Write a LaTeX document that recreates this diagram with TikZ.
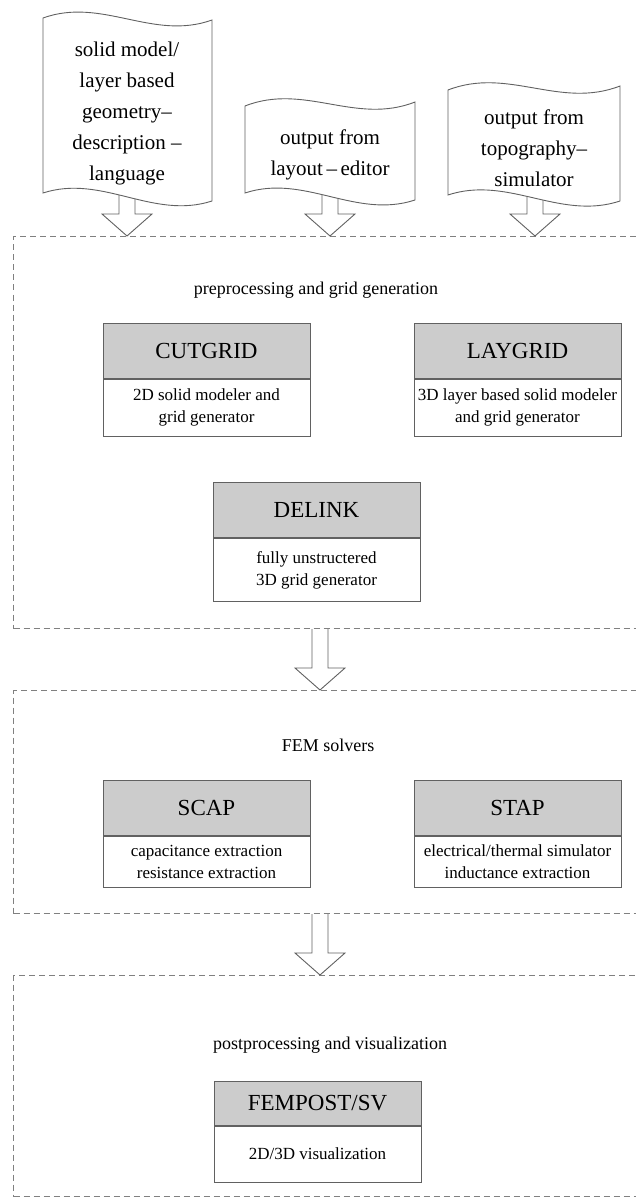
\documentclass[tikz,border=0pt]{standalone}
\usepackage{fontspec}
\setmainfont{Liberation Serif}
\usetikzlibrary{calc}
\definecolor{hdr}{gray}{0.8}
\definecolor{edgec}{gray}{0.38}
\definecolor{dashc}{gray}{0.5}
\newcommand\harrow[2]{%
  \draw[hollow] ($(#1)+(-8,0)$) -- ($(#2)+(-8,-22)$) -- ($(#2)+(-25,-22)$) -- (#2)
    -- ($(#2)+(25,-22)$) -- ($(#2)+(8,-22)$) -- ($(#1)+(8,0)$);}
\newcommand\docpath[6]{%
  \path[docline] (#1,#3) .. controls ($(#1,#3)!0.35!(#2,#4)+(0,-22)$) and ($(#1,#3)!0.65!(#2,#4)+(0,22)$) .. (#2,#4)
    -- (#2,#6) .. controls ($(#1,#5)!0.65!(#2,#6)+(0,22)$) and ($(#1,#5)!0.35!(#2,#6)+(0,-22)$) .. (#1,#5) -- cycle;}
\begin{document}
\begin{tikzpicture}[x=1pt,y=-1pt,
  doctext/.style={align=center,font=\fontsize{21}{31}\selectfont,inner sep=0pt},
  docline/.style={draw=edgec,line width=0.9pt,fill=white},
  hollow/.style={draw=edgec,line width=0.9pt,fill=white},
  group/.style={draw=dashc,dash pattern=on 6pt off 4pt,line width=1pt,anchor=north west,minimum width=660pt,inner sep=0pt},
  grouplabel/.style={font=\fontsize{18}{22}\selectfont,inner sep=0pt},
  head/.style={draw=edgec,fill=hdr,line width=1pt,minimum width=207pt,minimum height=55pt,inner sep=0pt,font=\fontsize{23}{27}\selectfont},
  body/.style={draw=edgec,fill=white,line width=1pt,minimum width=207pt,minimum height=57pt,inner sep=0pt,align=center,anchor=north,font=\fontsize{17}{22}\selectfont},
]
\useasboundingbox (0,0) rectangle (636,1201);
\clip (0,0) rectangle (636,1201);

% group frames
\node[group,minimum height=392pt] (g1) at (13,236) {};
\node[group,minimum height=223pt] (g2) at (13,690) {};
\node[group,minimum height=221pt] (g3) at (13,975) {};
\coordinate (cx) at (320,0);

\node[grouplabel] (l1) at (316,290) {preprocessing and grid generation};
\node[grouplabel] (l2) at (328,745) {FEM solvers};
\node[grouplabel] (l3) at (330,1045) {postprocessing and visualization};

% input arrows
\coordinate (a1) at (127,185);
\coordinate (a2) at (330,185);
\coordinate (a3) at (535,185);
\harrow{a1}{a1 |- g1.north}
\harrow{a2}{a2 |- g1.north}
\harrow{a3}{a3 |- g1.north}

% documents
\docpath{43}{212}{18}{20}{193}{201}
\docpath{245}{415}{106}{102}{193}{200}
\docpath{448}{620}{90}{86}{195}{201}
\node[doctext] (d1) at (127,113) {solid model/\\layer based\\geometry--\\description --\\language};
\node[doctext] (d2) at (330,155) {output from\\layout\,--\,editor};
\node[doctext] (d3) at (534,148) {output from\\topography--\\simulator};

% tools
\node[head] (cut) at (206.5,350.5) {CUTGRID};
\node[body] (cutb) at (cut.south) {2D solid modeler and\\grid generator};
\node[head] (lay) at (517.5,350.5) {LAYGRID};
\node[body] (layb) at (lay.south) {3D layer based solid modeler\\and grid generator};
\node[head] (del) at (316.5,510) {DELINK};
\node[body,minimum height=63pt] (delb) at (del.south) {fully unstructered\\3D grid generator};

\node[head] (scap) at (206.5,807.5) {SCAP};
\node[body,minimum height=51pt] (scapb) at (scap.south) {capacitance extraction\\resistance extraction};
\node[head] (stap) at (517.5,807.5) {STAP};
\node[body,minimum height=51pt] (stapb) at (stap.south) {electrical/thermal simulator\\inductance extraction};

\node[head,minimum height=44pt] (fem) at (317.5,1103) {FEMPOST/SV};
\node[body,minimum height=56pt] (femb) at (fem.south) {2D/3D visualization};

% stage arrows
\harrow{g1.south -| cx}{g2.north -| cx}
\harrow{g2.south -| cx}{g3.north -| cx}
\end{tikzpicture}
\end{document}
